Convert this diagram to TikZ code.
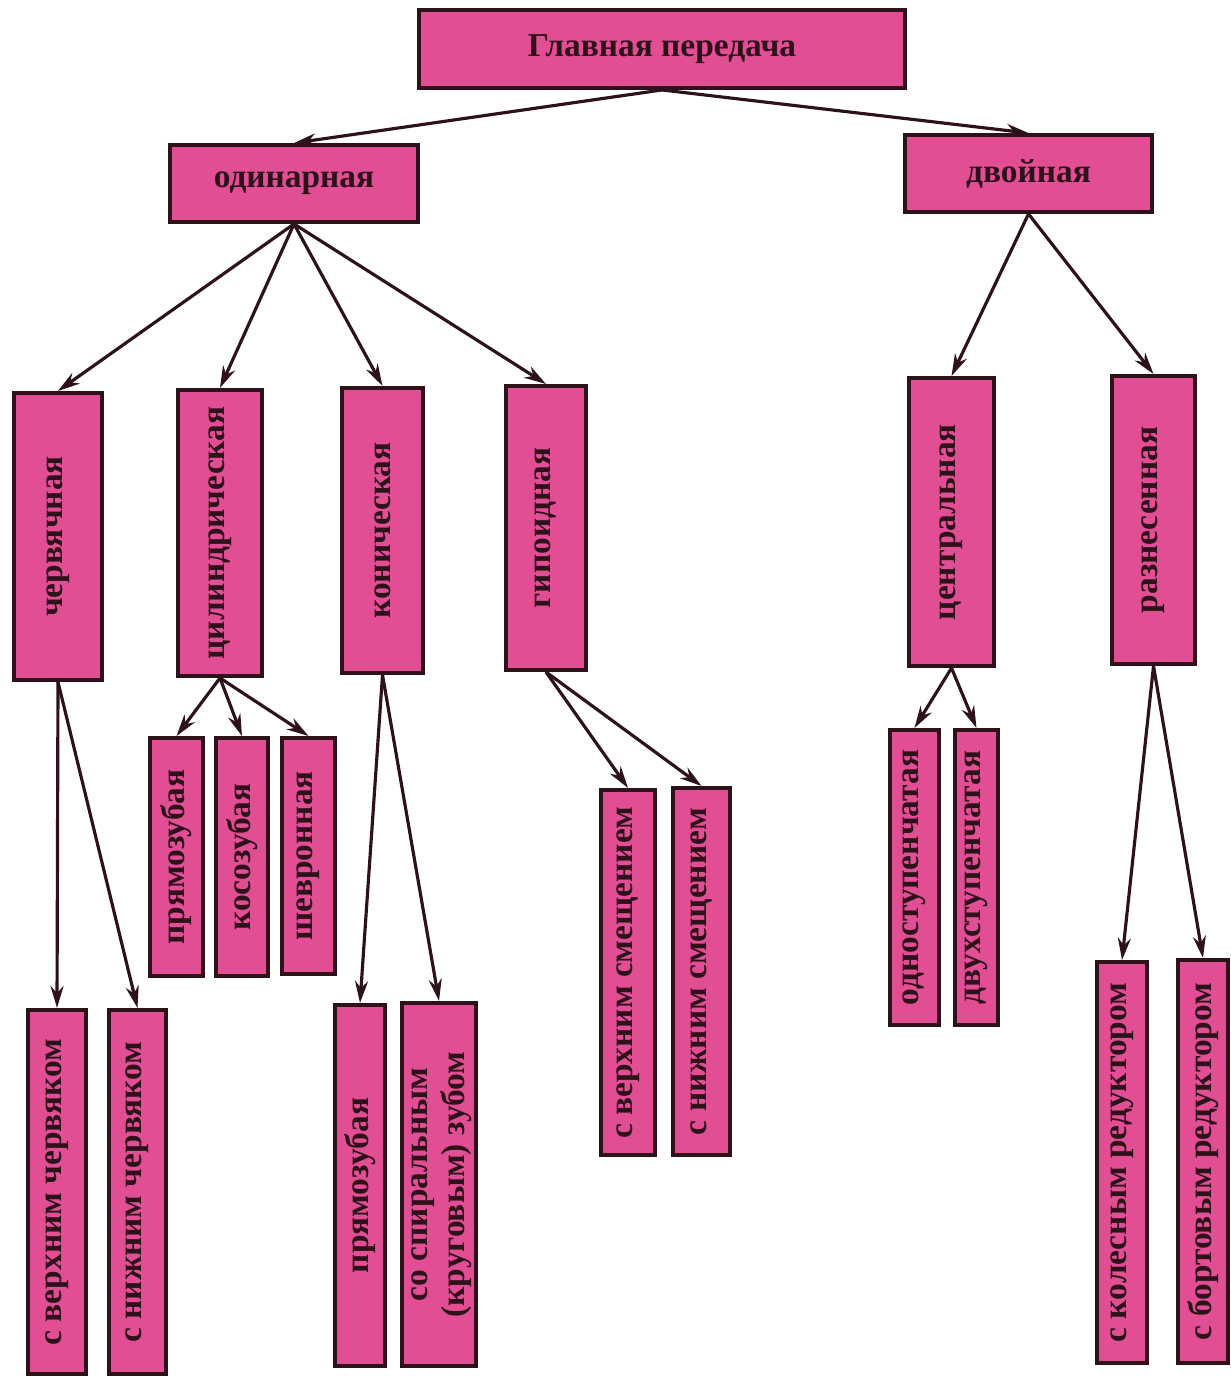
\documentclass[tikz,border=0pt]{standalone}
\usepackage{fontspec}
\setmainfont{Liberation Serif}
\usepackage{graphicx}
\usepackage{xcolor}
\usepackage{tikz}
\usetikzlibrary{arrows.meta}

\definecolor{boxpink}{RGB}{226,78,148}
\definecolor{boxline}{RGB}{45,18,26}
\newcommand{\vtext}[1]{\rotatebox{90}{#1}}

\begin{document}
\begin{tikzpicture}[x=0.01cm,y=-0.01cm,
    blk/.style={draw=boxline, line width=1.1pt, fill=boxpink, text=boxline,
        font=\fontsize{9.5}{10.5}\selectfont\bfseries, inner sep=0pt},
    arr/.style={draw=boxline, line width=0.9pt, -{Stealth[length=2.2mm,width=1.3mm]}}]
    \useasboundingbox (0,0) rectangle (1230,1376);

    \node[blk, minimum width=4.86cm, minimum height=0.78cm] (glav) at (662,49) {Главная передача};
    \node[blk, minimum width=2.48cm, minimum height=0.77cm] (odin) at (294,183.5) {одинарная};
    \node[blk, minimum width=2.47cm, minimum height=0.77cm] (dvoi) at (1028.5,173.5) {двойная};

    % second level
    \node[blk, minimum width=0.88cm, minimum height=2.87cm] (cherv) at (58,536.5) {\vtext{червячная}};
    \node[blk, minimum width=0.84cm, minimum height=2.86cm] (cil) at (220,533) {\vtext{цилиндрическая}};
    \node[blk, minimum width=0.81cm, minimum height=2.85cm] (kon) at (382.5,530.5) {\vtext{коническая}};
    \node[blk, minimum width=0.80cm, minimum height=2.84cm] (gip) at (546,528) {\vtext{гипоидная}};
    \node[blk, minimum width=0.85cm, minimum height=2.88cm] (centr) at (951.5,522) {\vtext{центральная}};
    \node[blk, minimum width=0.83cm, minimum height=2.88cm] (razn) at (1153.5,520) {\vtext{разнесенная}};

    % third level
    \node[blk, minimum width=0.53cm, minimum height=2.38cm] (pryam) at (176.5,857) {\vtext{прямозубая}};
    \node[blk, minimum width=0.52cm, minimum height=2.38cm] (kos) at (242,857) {\vtext{косозубая}};
    \node[blk, minimum width=0.53cm, minimum height=2.36cm] (shev) at (308.5,856) {\vtext{шевронная}};
    \node[blk, minimum width=0.58cm, minimum height=3.64cm] (vcherv) at (57,1192) {\vtext{с верхним червяком}};
    \node[blk, minimum width=0.57cm, minimum height=3.64cm] (ncherv) at (137.5,1192) {\vtext{с нижним червяком}};
    \node[blk, minimum width=0.50cm, minimum height=3.61cm] (kpryam) at (360,1185.5) {\vtext{прямозубая}};
    \node[blk, minimum width=0.72cm, minimum height=3.63cm] (spir) at (439,1184.5)
        {\vtext{\begin{tabular}{@{}c@{}}со спиральным\\(круговым) зубом\end{tabular}}};
    \node[blk, minimum width=0.54cm, minimum height=3.65cm] (vsm) at (628,972.5) {\vtext{с верхним смещением}};
    \node[blk, minimum width=0.57cm, minimum height=3.67cm] (nsm) at (701.5,971.5) {\vtext{с нижним смещением}};
    \node[blk, minimum width=0.49cm, minimum height=2.95cm] (odnost) at (914.5,877.5) {\vtext{одноступенчатая}};
    \node[blk, minimum width=0.43cm, minimum height=2.95cm] (dvuhst) at (976.5,877.5) {\vtext{двухступенчатая}};
    \node[blk, minimum width=0.50cm, minimum height=4.01cm] (koles) at (1122,1162.5) {\vtext{с колесным редуктором}};
    \node[blk, minimum width=0.50cm, minimum height=4.03cm] (bort) at (1203,1161.5) {\vtext{с бортовым редуктором}};

    \foreach \a/\b in {glav/odin, glav/dvoi, odin/cherv, odin/cil, odin/kon, odin/gip,
        dvoi/centr, dvoi/razn, cherv/vcherv, cherv/ncherv, cil/pryam, cil/kos, cil/shev,
        kon/kpryam, kon/spir, gip/vsm, gip/nsm, centr/odnost, centr/dvuhst, razn/koles, razn/bort}
        \draw[arr] (\a.south) -- (\b.north);
\end{tikzpicture}
\end{document}
